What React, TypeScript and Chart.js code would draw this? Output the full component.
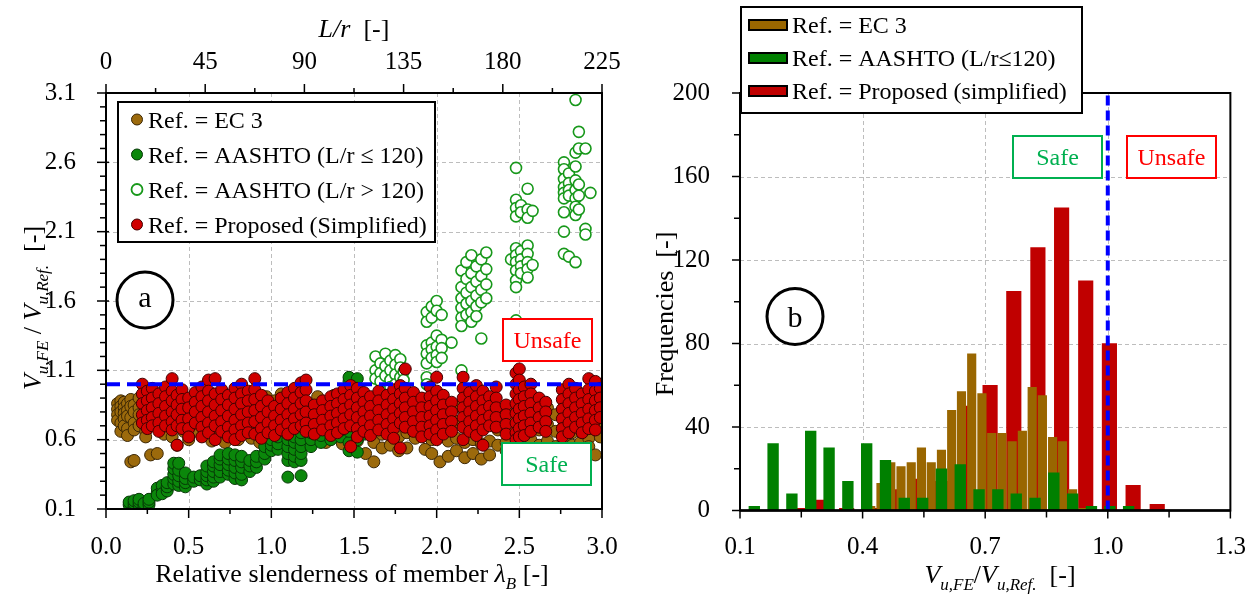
import React, { useEffect, useRef } from 'react';
import { Chart, registerables } from 'chart.js';

Chart.register(...registerables);

const SERIF = '"Liberation Serif", "Times New Roman", Times, serif';

// ---------- Panel (a): axis ticks ----------
const slendernessTicks = [0, 0.5, 1.0, 1.5, 2.0, 2.5, 3.0];
const lrTicks = [0, 45, 90, 135, 180, 225];
const ratioTicks = [0.1, 0.6, 1.1, 1.6, 2.1, 2.6, 3.1];
const safetyLimit = 1.0;

// ---------- Panel (a): scatter data, columns [lambda_B, V_FE/V_Ref values...] ----------
const ec3Columns: number[][] = [
  [0.07, 0.86, 0.82, 0.78, 0.74], [0.09, 0.88, 0.84, 0.8, 0.72, 0.66], [0.11, 0.87, 0.83, 0.79, 0.75, 0.7],
  [0.13, 0.86, 0.81, 0.77, 0.68, 0.63], [0.15, 0.89, 0.84, 0.76, 0.44], [0.17, 0.85, 0.8, 0.72, 0.67, 0.45],
  [0.2, 0.9, 0.83, 0.78, 0.7], [0.24, 0.88, 0.8, 0.74, 0.66, 0.62], [0.27, 0.86, 0.79, 0.49],
  [0.31, 0.91, 0.84, 0.76, 0.7, 0.5], [0.35, 0.89, 0.82, 0.73, 0.64], [0.4, 0.93, 0.85, 0.78, 0.69, 0.62],
  [0.43, 0.88, 0.8, 0.72, 0.56], [0.47, 0.9, 0.82, 0.75, 0.66], [0.5, 0.86, 0.77, 0.69, 0.6],
  [0.55, 0.92, 0.84, 0.75, 0.66], [0.6, 0.89, 0.81, 0.72, 0.63], [0.64, 0.93, 0.84, 0.76, 0.68, 0.59],
  [0.68, 0.9, 0.79, 0.7, 0.62], [0.72, 0.87, 0.78, 0.68, 0.58], [0.76, 0.92, 0.83, 0.73, 0.64],
  [0.8, 0.88, 0.79, 0.69, 0.6], [0.84, 0.93, 0.83, 0.74, 0.65], [0.88, 0.9, 0.8, 0.7, 0.61],
  [0.93, 0.86, 0.76, 0.67, 0.58], [0.97, 0.91, 0.81, 0.71, 0.62], [1.02, 0.88, 0.78, 0.68, 0.58],
  [1.06, 0.93, 0.82, 0.72, 0.62], [1.1, 0.89, 0.79, 0.69, 0.59], [1.14, 0.85, 0.75, 0.65, 0.56],
  [1.18, 0.9, 0.8, 0.7, 0.6], [1.23, 0.86, 0.76, 0.66, 0.57], [1.28, 0.91, 0.8, 0.7, 0.6],
  [1.33, 0.87, 0.77, 0.67, 0.58], [1.38, 0.92, 0.82, 0.72, 0.62], [1.43, 0.88, 0.78, 0.68, 0.57],
  [1.48, 0.85, 0.74, 0.64, 0.55], [1.52, 0.9, 0.8, 0.69, 0.59], [1.57, 0.86, 0.76, 0.65, 0.5],
  [1.62, 0.89, 0.79, 0.68, 0.58, 0.44], [1.67, 0.85, 0.75, 0.64, 0.54], [1.72, 0.88, 0.78, 0.67, 0.56],
  [1.77, 0.84, 0.73, 0.62, 0.52], [1.82, 0.87, 0.76, 0.65, 0.54], [1.87, 0.83, 0.72, 0.61],
  [1.93, 0.86, 0.75, 0.64, 0.53], [1.97, 0.82, 0.71, 0.6, 0.5], [2.02, 0.85, 0.74, 0.62, 0.44],
  [2.07, 0.81, 0.7, 0.59, 0.48], [2.12, 0.84, 0.73, 0.61, 0.52], [2.17, 0.8, 0.69, 0.58, 0.47],
  [2.22, 0.83, 0.72, 0.6, 0.5], [2.27, 0.79, 0.68, 0.57, 0.46], [2.32, 0.82, 0.71, 0.59, 0.49],
  [2.37, 0.78, 0.67, 0.56], [2.42, 0.81, 0.7, 0.58, 0.52], [2.47, 0.77, 0.66, 0.55, 0.47],
  [2.52, 0.8, 0.69, 0.57, 0.51], [2.57, 0.84, 0.72, 0.6, 0.53], [2.62, 0.79, 0.67, 0.56],
  [2.67, 0.83, 0.71, 0.59, 0.52], [2.72, 0.78, 0.66, 0.55], [2.77, 0.82, 0.7, 0.6, 0.54],
  [2.82, 0.77, 0.65, 0.56], [2.87, 0.81, 0.69, 0.58], [2.92, 0.85, 0.72, 0.61, 0.55],
  [2.96, 0.8, 0.68, 0.49], [2.99, 0.84, 0.71, 0.62],
];

const aashtoLowColumns: number[][] = [
  [0.14, 0.13, 0.15], [0.17, 0.12, 0.14, 0.16], [0.2, 0.13, 0.15, 0.17], [0.23, 0.12, 0.14],
  [0.26, 0.13, 0.15, 0.17], [0.31, 0.22, 0.25, 0.2], [0.34, 0.24, 0.27, 0.21], [0.37, 0.23, 0.26, 0.29],
  [0.41, 0.28, 0.32, 0.35, 0.39, 0.43], [0.44, 0.27, 0.3, 0.34, 0.38, 0.43], [0.48, 0.26, 0.29, 0.32, 0.36],
  [0.53, 0.3, 0.33], [0.57, 0.31, 0.34], [0.61, 0.28, 0.31, 0.34, 0.37, 0.41],
  [0.65, 0.3, 0.33, 0.37, 0.41, 0.44], [0.69, 0.33, 0.37, 0.42, 0.46, 0.49], [0.74, 0.35, 0.38, 0.42, 0.46, 0.5],
  [0.78, 0.32, 0.36, 0.4, 0.45, 0.49], [0.82, 0.31, 0.35, 0.4, 0.44, 0.48], [0.87, 0.37, 0.41, 0.45],
  [0.91, 0.4, 0.44, 0.48], [0.96, 0.46, 0.5, 0.55], [1.0, 0.52, 0.56, 0.6], [1.04, 0.53, 0.57, 0.62, 0.66],
  [1.1, 0.33, 0.45, 0.5, 0.55, 0.6, 0.64], [1.14, 0.44, 0.48, 0.53, 0.58, 0.62],
  [1.18, 0.34, 0.45, 0.5, 0.55, 0.6, 0.65], [1.24, 0.55, 0.6, 0.65], [1.3, 0.58, 0.63, 0.68],
  [1.36, 0.6, 0.65, 0.7], [1.42, 0.62, 0.67, 0.72], [1.47, 0.52, 0.58, 0.66, 0.74, 1.02, 1.05],
  [1.52, 0.51, 0.6, 0.68, 0.76, 1.04], [1.56, 0.64, 0.7],
];

const aashtoHighColumns: number[][] = [
  [1.63, 1.2, 1.1, 1.04], [1.66, 1.15, 1.08, 1.02], [1.69, 1.22, 1.13, 1.06], [1.72, 1.17, 1.1, 1.03, 0.98],
  [1.75, 1.21, 1.14, 1.07, 1.0], [1.78, 1.18, 1.12, 1.05], [1.8, 1.09, 1.03, 0.96],
  [1.94, 1.52, 1.45, 1.28, 1.22, 1.15, 1.05, 1.0], [1.97, 1.56, 1.48, 1.3, 1.25, 1.19],
  [2.0, 1.6, 1.53, 1.35, 1.27, 1.21, 1.16], [2.03, 1.5, 1.32, 1.26, 1.19], [2.09, 1.3],
  [2.15, 1.82, 1.7, 1.62, 1.55, 1.48, 1.42, 1.1], [2.18, 1.88, 1.76, 1.66, 1.58, 1.5],
  [2.21, 1.93, 1.8, 1.7, 1.6, 1.52, 1.45], [2.24, 1.85, 1.74, 1.64, 1.56, 1.49],
  [2.27, 1.9, 1.78, 1.68, 1.59, 1.33], [2.3, 1.95, 1.83, 1.72, 1.62],
  [2.45, 1.9], [2.48, 2.56, 2.33, 2.27, 2.21, 1.98, 1.93, 1.88, 1.82, 1.75, 1.7, 1.46],
  [2.51, 2.29, 2.24, 1.96, 1.9, 1.85, 1.8], [2.55, 2.41, 2.26, 2.2, 2.0, 1.94, 1.88, 1.83, 1.77],
  [2.58, 2.25, 1.86],
  [2.77, 2.6, 2.55, 2.48, 2.42, 2.38, 2.34, 2.24, 2.1, 1.94], [2.8, 2.52, 2.45, 2.4, 2.36, 1.92],
  [2.84, 3.05, 2.67, 2.57, 2.47, 2.4, 2.34, 2.28, 2.22, 1.88], [2.86, 2.82, 2.7, 2.44, 2.36, 2.26],
  [2.9, 2.7, 2.12, 2.08], [2.93, 2.38],
];

const proposedColumns: number[][] = [
  [0.22, 1.0, 0.93, 0.86, 0.78, 0.72], [0.25, 0.95, 0.88, 0.81, 0.74, 0.68], [0.28, 0.97, 0.9, 0.83, 0.76, 0.7],
  [0.32, 0.93, 0.86, 0.79, 0.72, 0.66], [0.36, 0.98, 0.91, 0.84, 0.77, 0.7], [0.4, 1.04, 0.95, 0.88, 0.8, 0.73, 0.67],
  [0.43, 0.92, 0.85, 0.78, 0.7, 0.56], [0.46, 0.96, 0.89, 0.82, 0.74, 0.68], [0.5, 0.9, 0.83, 0.75, 0.68, 0.62],
  [0.54, 0.94, 0.87, 0.8, 0.72], [0.58, 0.98, 0.91, 0.84, 0.76, 0.69, 0.62], [0.62, 1.03, 0.95, 0.88, 0.8, 0.72, 0.65],
  [0.66, 1.04, 0.93, 0.85, 0.77, 0.7, 0.6], [0.7, 0.96, 0.89, 0.81, 0.73, 0.66], [0.74, 0.92, 0.85, 0.77, 0.69, 0.62],
  [0.78, 0.97, 0.9, 0.82, 0.74, 0.67, 0.6], [0.82, 1.0, 0.93, 0.86, 0.78, 0.7, 0.63], [0.86, 0.95, 0.88, 0.8, 0.72, 0.65],
  [0.9, 1.04, 0.96, 0.89, 0.81, 0.73, 0.64], [0.94, 0.92, 0.84, 0.76, 0.68, 0.61], [0.98, 0.88, 0.8, 0.72, 0.65],
  [1.02, 0.84, 0.77, 0.7, 0.63], [1.06, 0.9, 0.82, 0.74, 0.67], [1.1, 0.94, 0.86, 0.78, 0.71, 0.64],
  [1.14, 0.97, 0.9, 0.82, 0.75, 0.68], [1.18, 1.01, 0.94, 0.86, 0.78, 0.7], [1.21, 1.03, 0.96, 0.88, 0.8, 0.72, 0.66],
  [1.26, 0.85, 0.78, 0.71, 0.64], [1.31, 0.88, 0.81, 0.74, 0.67], [1.36, 0.91, 0.84, 0.77, 0.7, 0.63],
  [1.4, 0.93, 0.86, 0.79, 0.72, 0.65], [1.44, 0.96, 0.89, 0.82, 0.75, 0.68], [1.48, 0.99, 0.92, 0.85, 0.78, 0.7, 0.55],
  [1.52, 0.97, 0.9, 0.83, 0.76, 0.68, 0.62], [1.56, 0.94, 0.87, 0.8, 0.73, 0.66], [1.6, 0.91, 0.84, 0.77, 0.7, 0.63],
  [1.65, 0.95, 0.88, 0.81, 0.74, 0.67], [1.7, 0.92, 0.85, 0.78, 0.71, 0.64], [1.74, 0.96, 0.89, 0.82, 0.75, 0.68, 0.61],
  [1.78, 0.99, 0.93, 0.86, 0.79, 0.72, 0.54], [1.81, 1.11, 0.97, 0.9, 0.83, 0.76, 0.69], [1.86, 0.94, 0.87, 0.8, 0.73, 0.66],
  [1.91, 0.9, 0.83, 0.76, 0.69, 0.62], [1.96, 0.98, 0.91, 0.84, 0.77, 0.7, 0.64], [2.0, 1.05, 0.95, 0.88, 0.81, 0.74, 0.67, 0.6],
  [2.04, 0.92, 0.85, 0.78, 0.71, 0.64], [2.09, 0.87, 0.8, 0.73, 0.66], [2.16, 1.05, 0.97, 0.9, 0.83, 0.76, 0.69, 0.6],
  [2.2, 0.94, 0.87, 0.8, 0.73, 0.66], [2.24, 0.99, 0.91, 0.84, 0.77, 0.7, 0.63], [2.28, 0.95, 0.88, 0.81, 0.74, 0.67, 0.56],
  [2.32, 0.91, 0.84, 0.77, 0.7], [2.36, 0.98, 0.9, 0.83, 0.76, 0.69], [2.42, 0.85, 0.78, 0.71, 0.64],
  [2.48, 1.08, 1.0, 0.93, 0.86, 0.79, 0.72, 0.65, 0.6], [2.5, 1.11, 1.03, 0.96, 0.89, 0.82, 0.75, 0.68, 0.62],
  [2.53, 0.98, 0.91, 0.84, 0.77, 0.7, 0.63], [2.57, 1.0, 0.93, 0.86, 0.79, 0.72, 0.66], [2.62, 0.9, 0.83, 0.76, 0.69],
  [2.66, 0.87, 0.8, 0.73, 0.66], [2.76, 0.96, 0.89, 0.82, 0.75, 0.68, 0.62], [2.8, 1.0, 0.93, 0.86, 0.79, 0.72, 0.65],
  [2.84, 0.97, 0.9, 0.83, 0.76, 0.69], [2.88, 0.93, 0.86, 0.79, 0.72, 0.65], [2.92, 1.04, 0.96, 0.89, 0.82, 0.75, 0.68],
  [2.96, 1.02, 0.95, 0.88, 0.81, 0.74, 0.67], [2.99, 0.97, 0.9, 0.83, 0.76],
];

// ---------- Panel (b): histogram ----------
const histXTicks = [0.1, 0.4, 0.7, 1.0, 1.3];
const freqTicks = [0, 40, 80, 120, 160, 200];

const ec3BinCenters = [0.42, 0.445, 0.469, 0.494, 0.519, 0.544, 0.568, 0.593, 0.618, 0.642, 0.667, 0.692, 0.716, 0.741, 0.766, 0.791, 0.815, 0.84, 0.865, 0.889, 0.914, 0.939];
const ec3Counts = [2, 13, 23, 21, 23, 30, 23, 29, 48, 57, 75, 56, 37, 37, 33, 38, 59, 55, 35, 33, 10, 1];
const aashtoBinCenters = [0.135, 0.181, 0.227, 0.273, 0.318, 0.364, 0.41, 0.456, 0.502, 0.547, 0.593, 0.639, 0.685, 0.731, 0.776, 0.822, 0.868, 0.914, 0.96, 1.005, 1.051];
const aashtoCounts = [2, 32, 8, 38, 30, 14, 32, 24, 6, 6, 20, 22, 10, 10, 8, 6, 18, 8, 2, 2, 2];
const proposedBinCenters = [0.244, 0.302, 0.361, 0.42, 0.478, 0.536, 0.595, 0.653, 0.712, 0.77, 0.829, 0.887, 0.946, 1.004, 1.062, 1.121];
const proposedCounts = [1, 5, 1, 1, 10, 15, 14, 50, 60, 105, 126, 145, 110, 80, 12, 3];

// ---------- styles ----------
const BROWN = '#9C6A0C';
const BROWN_EDGE = '#3b2705';
const GREEN = '#0B870B';
const GREEN_EDGE = '#063806';
const OPEN_GREEN = '#17981A';
const RED = '#D00000';
const RED_EDGE = '#420000';
const BAR_BROWN = '#996600';
const BAR_GREEN = '#008000';
const BAR_RED = '#C00000';
const SAFE = '#00B050';
const UNSAFE = '#FF0000';
const GRID = '#BDBDBD';

type Part = { t: string; italic?: boolean; sub?: boolean };

const toPoints = (cols: number[][]) => cols.flatMap(([x, ...ys]) => ys.map((y) => ({ x, y })));

function richText(ctx: CanvasRenderingContext2D, parts: Part[], x: number, y: number, size: number, align: 'center' | 'left' = 'center') {
  const subSize = Math.round(size * 0.66);
  const fontOf = (p: Part) => `${p.italic ? 'italic ' : ''}${p.sub ? subSize : size}px ${SERIF}`;
  const widths = parts.map((p) => {
    ctx.font = fontOf(p);
    return ctx.measureText(p.t).width;
  });
  const total = widths.reduce((a, b) => a + b, 0);
  let cx = align === 'center' ? x - total / 2 : x;
  ctx.textAlign = 'left';
  ctx.textBaseline = 'alphabetic';
  parts.forEach((p, i) => {
    ctx.font = fontOf(p);
    ctx.fillText(p.t, cx, y + (p.sub ? size * 0.27 : 0));
    cx += widths[i];
  });
}

function seg(ctx: CanvasRenderingContext2D, x1: number, y1: number, x2: number, y2: number) {
  ctx.beginPath();
  ctx.moveTo(x1, y1);
  ctx.lineTo(x2, y2);
  ctx.stroke();
}

function labelBox(ctx: CanvasRenderingContext2D, text: string, color: string, x: number, y: number, w: number, h: number) {
  ctx.fillStyle = '#fff';
  ctx.fillRect(x, y, w, h);
  ctx.strokeStyle = color;
  ctx.lineWidth = 2;
  ctx.strokeRect(x, y, w, h);
  ctx.fillStyle = color;
  ctx.font = `24px ${SERIF}`;
  ctx.textAlign = 'center';
  ctx.textBaseline = 'alphabetic';
  ctx.fillText(text, x + w / 2, y + h / 2 + 8);
}

function circledLetter(ctx: CanvasRenderingContext2D, letter: string, cx: number, cy: number, r: number, baseOffset: number) {
  ctx.fillStyle = '#fff';
  ctx.beginPath();
  ctx.ellipse(cx, cy, r, r, 0, 0, Math.PI * 2);
  ctx.fill();
  ctx.strokeStyle = '#000';
  ctx.lineWidth = 3;
  ctx.stroke();
  ctx.fillStyle = '#000';
  ctx.font = `30px ${SERIF}`;
  ctx.textAlign = 'center';
  ctx.textBaseline = 'alphabetic';
  ctx.fillText(letter, cx, cy + baseOffset);
}

const ratioParts: Part[] = [
  { t: 'V', italic: true }, { t: 'u,FE', italic: true, sub: true }, { t: ' / ' },
  { t: 'V', italic: true }, { t: 'u,Ref.', italic: true, sub: true }, { t: '  [-]' },
];
const ratioPartsB: Part[] = [
  { t: 'V', italic: true }, { t: 'u,FE', italic: true, sub: true }, { t: '/' },
  { t: 'V', italic: true }, { t: 'u,Ref.', italic: true, sub: true }, { t: '  [-]' },
];

const panelAPlugin = {
  id: 'panelADecor',
  beforeDatasetsDraw(chart: any) {
    const { ctx, chartArea: a, scales } = chart;
    ctx.save();
    ctx.strokeStyle = GRID;
    ctx.lineWidth = 1;
    ctx.setLineDash([4, 3]);
    slendernessTicks.slice(1, -1).forEach((v) => {
      const px = Math.round(scales.x.getPixelForValue(v)) + 0.5;
      seg(ctx, px, a.top, px, a.bottom);
    });
    ratioTicks.slice(1, -1).forEach((v) => {
      const py = Math.round(scales.y.getPixelForValue(v)) + 0.5;
      seg(ctx, a.left, py, a.right, py);
    });
    ctx.restore();
  },
  afterDatasetsDraw(chart: any) {
    const { ctx, chartArea: a, scales } = chart;
    const sx = scales.x, sy = scales.y, sx2 = scales.x2;
    ctx.save();
    ctx.setLineDash([]);
    ctx.strokeStyle = '#000';
    ctx.lineWidth = 1.5;
    ratioTicks.forEach((v, i) => {
      const py = sy.getPixelForValue(v);
      seg(ctx, a.left - 9, py, a.left + 3, py);
      if (i < ratioTicks.length - 1) {
        for (let k = 1; k < 5; k++) {
          const m = sy.getPixelForValue(v + ((ratioTicks[i + 1] - v) * k) / 5);
          seg(ctx, a.left - 6, m, a.left, m);
        }
      }
    });
    slendernessTicks.forEach((v, i) => {
      const px = sx.getPixelForValue(v);
      seg(ctx, px, a.bottom, px, a.bottom + 9);
      if (i < slendernessTicks.length - 1) {
        const m = sx.getPixelForValue((v + slendernessTicks[i + 1]) / 2);
        seg(ctx, m, a.bottom, m, a.bottom + 5);
      }
    });
    lrTicks.forEach((v, i) => {
      const px = sx2.getPixelForValue(v);
      seg(ctx, px, a.top, px, a.top - 9);
      if (i < lrTicks.length - 1) {
        const m = sx2.getPixelForValue((v + lrTicks[i + 1]) / 2);
        seg(ctx, m, a.top, m, a.top - 5);
      }
    });
    ctx.lineWidth = 2;
    ctx.strokeRect(a.left, a.top, a.right - a.left, a.bottom - a.top);

    // legend
    const lx = a.left + 12, ly = a.top + 9, lw = 317, lh = 140;
    ctx.fillStyle = '#fff';
    ctx.fillRect(lx, ly, lw, lh);
    ctx.strokeStyle = '#000';
    ctx.lineWidth = 2;
    ctx.strokeRect(lx, ly, lw, lh);
    const rows = [
      { label: 'Ref. = EC 3', fill: BROWN, edge: BROWN_EDGE, lw: 1 },
      { label: 'Ref. = AASHTO (L/r ≤ 120)', fill: GREEN, edge: GREEN_EDGE, lw: 1 },
      { label: 'Ref. = AASHTO (L/r > 120)', fill: '#fff', edge: OPEN_GREEN, lw: 1.8 },
      { label: 'Ref. = Proposed (Simplified)', fill: RED, edge: RED_EDGE, lw: 1 },
    ];
    rows.forEach((r, i) => {
      const cy = ly + 17.5 + i * 35;
      ctx.beginPath();
      ctx.arc(lx + 19, cy, 5.5, 0, Math.PI * 2);
      ctx.fillStyle = r.fill;
      ctx.fill();
      ctx.strokeStyle = r.edge;
      ctx.lineWidth = r.lw;
      ctx.stroke();
      ctx.fillStyle = '#000';
      ctx.font = `24px ${SERIF}`;
      ctx.textAlign = 'left';
      ctx.textBaseline = 'alphabetic';
      ctx.fillText(r.label, lx + 30, cy + 8);
    });

    labelBox(ctx, 'Unsafe', UNSAFE, 503, 319, 89, 42);
    labelBox(ctx, 'Safe', SAFE, 502, 443, 89, 42);
    circledLetter(ctx, 'a', 145, 300, 28, 7);

    // titles
    ctx.fillStyle = '#000';
    const cx = (a.left + a.right) / 2;
    richText(ctx, [{ t: 'L/r', italic: true }, { t: '  [-]' }], cx, 37, 26);
    richText(ctx, [{ t: 'Relative slenderness of member ' }, { t: 'λ', italic: true }, { t: 'B', italic: true, sub: true }, { t: ' [-]' }], cx - 2, 582, 26);
    ctx.save();
    ctx.translate(41, 308);
    ctx.rotate(-Math.PI / 2);
    richText(ctx, ratioParts, 0, 0, 26);
    ctx.restore();
    ctx.restore();
  },
};

const panelBPlugin = {
  id: 'panelBDecor',
  beforeDatasetsDraw(chart: any) {
    const { ctx, chartArea: a, scales } = chart;
    ctx.save();
    ctx.strokeStyle = GRID;
    ctx.lineWidth = 1;
    ctx.setLineDash([4, 3]);
    histXTicks.slice(1, -1).forEach((v) => {
      const px = Math.round(scales.x.getPixelForValue(v)) + 0.5;
      seg(ctx, px, a.top, px, a.bottom);
    });
    freqTicks.slice(1, -1).forEach((v) => {
      const py = Math.round(scales.y.getPixelForValue(v)) + 0.5;
      seg(ctx, a.left, py, a.right, py);
    });
    ctx.restore();
  },
  afterDatasetsDraw(chart: any) {
    const { ctx, chartArea: a, scales } = chart;
    const sx = scales.x, sy = scales.y;
    ctx.save();
    ctx.setLineDash([]);
    ctx.strokeStyle = '#000';
    ctx.lineWidth = 1.5;
    freqTicks.forEach((v, i) => {
      const py = sy.getPixelForValue(v);
      seg(ctx, a.left - 8, py, a.left, py);
      if (i < freqTicks.length - 1) {
        const m = sy.getPixelForValue((v + freqTicks[i + 1]) / 2);
        seg(ctx, a.left - 6, m, a.left, m);
      }
    });
    histXTicks.forEach((v, i) => {
      const px = sx.getPixelForValue(v);
      seg(ctx, px, a.bottom, px, a.bottom + 8);
      if (i < histXTicks.length - 1) {
        const m = sx.getPixelForValue((v + histXTicks[i + 1]) / 2);
        seg(ctx, m, a.bottom, m, a.bottom + 7);
      }
    });
    ctx.lineWidth = 2;
    ctx.strokeRect(a.left, a.top, a.right - a.left, a.bottom - a.top);
    ctx.lineWidth = 2.5;
    seg(ctx, a.left, a.bottom, a.right, a.bottom);

    // legend
    const lx = 101, ly = 7, lw = 341, lh = 106;
    ctx.fillStyle = '#fff';
    ctx.fillRect(lx, ly, lw, lh);
    ctx.strokeStyle = '#000';
    ctx.lineWidth = 2;
    ctx.strokeRect(lx, ly, lw, lh);
    const rows = [
      { label: 'Ref. = EC 3', fill: BAR_BROWN },
      { label: 'Ref. = AASHTO (L/r≤120)', fill: BAR_GREEN },
      { label: 'Ref. = Proposed (simplified)', fill: BAR_RED },
    ];
    rows.forEach((r, i) => {
      const cy = ly + 18 + i * 33;
      ctx.fillStyle = r.fill;
      ctx.fillRect(lx + 8, cy - 5, 38, 10);
      ctx.strokeStyle = '#000';
      ctx.lineWidth = 2;
      ctx.strokeRect(lx + 8, cy - 5, 38, 10);
      ctx.fillStyle = '#000';
      ctx.font = `24px ${SERIF}`;
      ctx.textAlign = 'left';
      ctx.textBaseline = 'alphabetic';
      ctx.fillText(r.label, lx + 51, cy + 8);
    });

    labelBox(ctx, 'Safe', SAFE, 373, 136, 89, 42);
    labelBox(ctx, 'Unsafe', UNSAFE, 487, 136, 89, 42);
    circledLetter(ctx, 'b', 155, 316.5, 28, 10);

    ctx.fillStyle = '#000';
    richText(ctx, ratioPartsB, 360, 583, 26);
    ctx.save();
    ctx.translate(33, 314);
    ctx.rotate(-Math.PI / 2);
    richText(ctx, [{ t: 'Frequencies  [-]' }], 0, 0, 26);
    ctx.restore();
    ctx.restore();
  },
};

const tickFont = { family: SERIF, size: 25 };

export default function App() {
  const aRef = useRef<HTMLCanvasElement>(null);
  const bRef = useRef<HTMLCanvasElement>(null);

  useEffect(() => {
    const chartA = new Chart(aRef.current as HTMLCanvasElement, {
      type: 'scatter',
      data: {
        datasets: [
          {
            type: 'line',
            label: 'limit',
            data: [{ x: slendernessTicks[0], y: safetyLimit }, { x: slendernessTicks[slendernessTicks.length - 1], y: safetyLimit }],
            borderColor: '#0000FF',
            borderWidth: 4,
            borderDash: [14, 7],
            pointRadius: 0,
            fill: false,
          } as any,
          { label: 'Ref. = Proposed (Simplified)', data: toPoints(proposedColumns), backgroundColor: RED, borderColor: RED_EDGE, borderWidth: 1, pointRadius: 6 },
          { label: 'Ref. = AASHTO (L/r > 120)', data: toPoints(aashtoHighColumns), backgroundColor: '#fff', borderColor: OPEN_GREEN, borderWidth: 1.6, pointRadius: 5.5 },
          { label: 'Ref. = AASHTO (L/r ≤ 120)', data: toPoints(aashtoLowColumns), backgroundColor: GREEN, borderColor: GREEN_EDGE, borderWidth: 1, pointRadius: 6 },
          { label: 'Ref. = EC 3', data: toPoints(ec3Columns), backgroundColor: BROWN, borderColor: BROWN_EDGE, borderWidth: 1, pointRadius: 6 },
        ],
      },
      options: {
        animation: false,
        responsive: false,
        devicePixelRatio: 1,
        layout: { padding: { left: 0, right: 38, top: 0, bottom: 0 } },
        plugins: { legend: { display: false }, tooltip: { enabled: false } },
        scales: {
          x: {
            type: 'linear', position: 'bottom', min: 0, max: 3,
            afterBuildTicks: (s: any) => { s.ticks = slendernessTicks.map((v) => ({ value: v })); },
            afterFit: (s: any) => { s.height = 86; },
            grid: { display: false }, border: { display: false },
            ticks: { font: tickFont, color: '#000', padding: 15, maxRotation: 0, autoSkip: false, callback: (v: any) => Number(v).toFixed(1) },
          },
          x2: {
            type: 'linear', position: 'top', min: 0, max: 225,
            afterBuildTicks: (s: any) => { s.ticks = lrTicks.map((v) => ({ value: v })); },
            afterFit: (s: any) => { s.height = 93; },
            grid: { display: false }, border: { display: false },
            ticks: { font: tickFont, color: '#000', padding: 8, maxRotation: 0, autoSkip: false, callback: (v: any) => String(Math.round(Number(v))) },
          },
          y: {
            type: 'linear', min: 0.1, max: 3.1,
            afterBuildTicks: (s: any) => { s.ticks = ratioTicks.map((v) => ({ value: v })); },
            afterFit: (s: any) => { s.width = 106; },
            grid: { display: false }, border: { display: false },
            ticks: { font: tickFont, color: '#000', padding: 22, autoSkip: false, callback: (v: any) => Number(v).toFixed(1) },
          },
        },
      } as any,
      plugins: [panelAPlugin],
    });

    const bars = (xs: number[], ys: number[]) => xs.map((x, i) => ({ x, y: ys[i] }));
    const chartB = new Chart(bRef.current as HTMLCanvasElement, {
      type: 'bar',
      data: {
        datasets: [
          {
            type: 'line',
            label: 'limit',
            data: [{ x: safetyLimit, y: freqTicks[0] }, { x: safetyLimit, y: freqTicks[freqTicks.length - 1] }],
            borderColor: '#0000FF',
            borderWidth: 4,
            borderDash: [10, 5],
            pointRadius: 0,
            fill: false,
          } as any,
          { label: 'Ref. = AASHTO (L/r≤120)', data: bars(aashtoBinCenters, aashtoCounts), backgroundColor: BAR_GREEN, grouped: false, barThickness: 10.7, borderWidth: 0 } as any,
          { label: 'Ref. = EC 3', data: bars(ec3BinCenters, ec3Counts), backgroundColor: BAR_BROWN, grouped: false, barThickness: 8.5, borderWidth: 0 } as any,
          { label: 'Ref. = Proposed (simplified)', data: bars(proposedBinCenters, proposedCounts), backgroundColor: BAR_RED, grouped: false, barThickness: 14.5, borderWidth: 0 } as any,
        ],
      },
      options: {
        animation: false,
        responsive: false,
        devicePixelRatio: 1,
        layout: { padding: { left: 0, right: 21, top: 93, bottom: 0 } },
        plugins: { legend: { display: false }, tooltip: { enabled: false } },
        scales: {
          x: {
            type: 'linear', min: 0.1, max: 1.3, offset: false,
            afterBuildTicks: (s: any) => { s.ticks = histXTicks.map((v) => ({ value: v })); },
            afterFit: (s: any) => { s.height = 84.5; },
            grid: { display: false }, border: { display: false },
            ticks: { font: tickFont, color: '#000', padding: 14, maxRotation: 0, autoSkip: false, callback: (v: any) => Number(v).toFixed(1) },
          },
          y: {
            type: 'linear', min: 0, max: 200,
            afterBuildTicks: (s: any) => { s.ticks = freqTicks.map((v) => ({ value: v })); },
            afterFit: (s: any) => { s.width = 100; },
            grid: { display: false }, border: { display: false },
            ticks: { font: tickFont, color: '#000', padding: 22, autoSkip: false, callback: (v: any) => String(Math.round(Number(v))) },
          },
        },
      } as any,
      plugins: [panelBPlugin],
    });

    return () => {
      chartA.destroy();
      chartB.destroy();
    };
  }, []);

  return (
    <div style={{ position: 'absolute', left: 0, top: 0, width: 1260, height: 595, background: '#fff' }}>
      <canvas ref={aRef} width={640} height={595} style={{ position: 'absolute', left: 0, top: 0, width: 640, height: 595 }} />
      <canvas ref={bRef} width={620} height={595} style={{ position: 'absolute', left: 640, top: 0, width: 620, height: 595 }} />
    </div>
  );
}
